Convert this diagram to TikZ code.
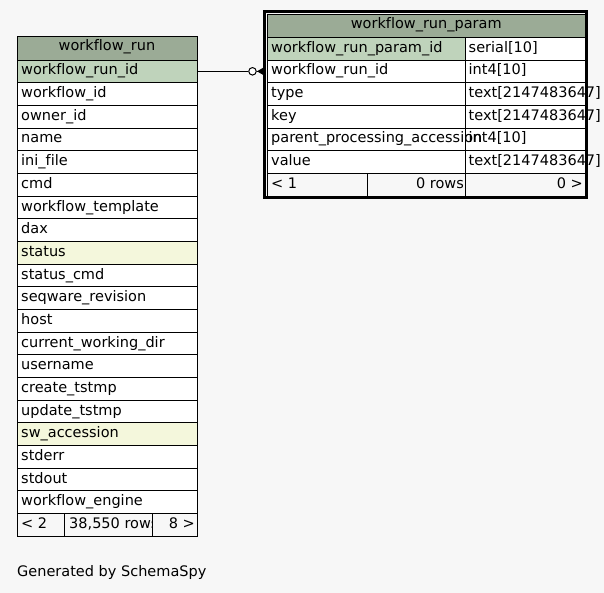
\documentclass[tikz,border=0pt]{standalone}
\usepackage{xcolor}
\usepackage{fontspec}
\setmainfont{DejaVu Sans}[Ligatures=NoCommon]
\usepackage{tikz}
\usetikzlibrary{positioning}
\definecolor{bggray}{HTML}{F7F7F7}
\definecolor{headgreen}{HTML}{9BAB96}
\definecolor{keygreen}{HTML}{BFD3BB}
\definecolor{idxyellow}{HTML}{F4F7DC}
\tikzset{
  cell/.style = {draw=black, line width=0.9pt},
  headtext/.style = {anchor=base, inner sep=0pt, font=\fontsize{14.5}{17}\selectfont},
  fieldtext/.style = {anchor=base west, inner sep=0pt, font=\fontsize{14.5}{17}\selectfont},
  link/.style = {draw=black, line width=1pt}
}

\begin{document}
\begin{tikzpicture}[x=1pt,y=-1pt]
\useasboundingbox (0,0) rectangle (604,593);
\fill[bggray] (0,0) rectangle (604,593);

% workflow_run
\filldraw[fill=headgreen, cell] (17,36) rectangle (197,60);
\node[headtext] (run-title) at (107,50.7) {workflow\_run};
\foreach \fld/\clr [count=\i] in {workflow\_run\_id/keygreen, workflow\_id/white, owner\_id/white, name/white, ini\_file/white, cmd/white, workflow\_template/white, dax/white, status/idxyellow, status\_cmd/white, seqware\_revision/white, host/white, current\_working\_dir/white, username/white, create\_tstmp/white, update\_tstmp/white, sw\_accession/idxyellow, stderr/white, stdout/white, workflow\_engine/white}
{
  \pgfmathsetmacro\rowtop{60+(\i-1)*22.667}
  \filldraw[fill=\clr, cell] (17,\rowtop) rectangle (197,\rowtop+22.667);
  \node[fieldtext] (run-\i) at (21,\rowtop+15) {\fld};
}
\filldraw[fill=bggray, cell] (17,513.33) rectangle (197,536);
\draw[cell] (64.3,513.33) -- (64.3,536) (152.3,513.33) -- (152.3,536);
\node[fieldtext] (run-parents) at (21,528.3) {< 2};
\begin{scope}
  \clip (64.3,513.33) rectangle (152.3,536);
  \node[fieldtext] (run-rows) at (69,528.3) {38,550 rows};
\end{scope}
\node[fieldtext, anchor=base east] (run-children) at (195,528.3) {8 >};

% workflow_run_param
\filldraw[fill=headgreen, cell] (267.5,14) rectangle (585,37.33);
\node[headtext] (param-title) at (426.25,29) {workflow\_run\_param};
\foreach \fld/\typ/\clr [count=\i] in {workflow\_run\_param\_id/{serial[10]}/keygreen, workflow\_run\_id/{int4[10]}/white, type/{text[2147483647]}/white, key/{text[2147483647]}/white, parent\_processing\_accession/{int4[10]}/white, value/{text[2147483647]}/white}
{
  \pgfmathsetmacro\rowtop{37.33+(\i-1)*22.667}
  \filldraw[fill=\clr, cell] (267.5,\rowtop) rectangle (465.7,\rowtop+22.667);
  \filldraw[fill=white, cell] (465.7,\rowtop) rectangle (585,\rowtop+22.667);
  \node[fieldtext] (param-\i) at (271,\rowtop+15) {\fld};
  \node[fieldtext] (param-type-\i) at (468.5,\rowtop+15) {\typ};
}
\filldraw[fill=bggray, cell] (267.5,173.33) rectangle (585,196);
\draw[cell] (367.3,173.33) -- (367.3,196) (465.7,173.33) -- (465.7,196);
\node[fieldtext] (param-parents) at (271,188.3) {< 1};
\node[fieldtext, anchor=base east] (param-rows) at (464,188.3) {0 rows};
\node[fieldtext, anchor=base east] (param-children) at (583,188.3) {0 >};
\draw[line width=3pt] (264.5,11.2) rectangle (586.3,197.8);

% relation
\coordinate (run-pk) at (197,71.33);
\coordinate (param-fk) at (263,71.33);
\node[circle, draw, fill=white, line width=1pt, minimum size=7.5pt, inner sep=0pt] (fk-ring) at (252.5,71.33) {};
\draw[link] (run-pk) -- (fk-ring);
\draw[link] (fk-ring) -- (param-fk);
\fill (param-fk) ++(0,-3.5) -- ++(-6,3.5) -- ++(6,3.5) -- cycle;

\node[fieldtext] (credit) at (17,576) {Generated by SchemaSpy};
\end{tikzpicture}
\end{document}
